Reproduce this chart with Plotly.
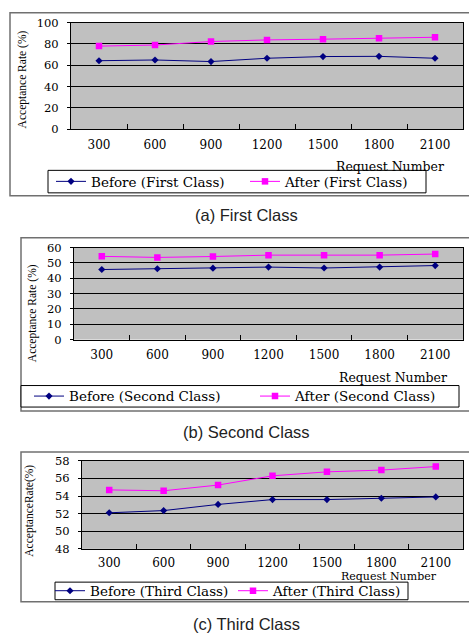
import plotly.graph_objects as go

W, H = 469, 640

categories = ["300", "600", "900", "1200", "1500", "1800", "2100"]

before_first = [64.3, 65.0, 63.5, 66.6, 68.2, 68.4, 66.6]
after_first = [78.0, 79.0, 82.3, 83.8, 84.5, 85.3, 86.3]

before_second = [45.7, 46.2, 46.6, 47.3, 46.7, 47.3, 48.3]
after_second = [54.3, 53.6, 54.2, 55.1, 55.1, 55.1, 55.8]

before_third = [52.1, 52.35, 53.05, 53.6, 53.6, 53.75, 53.9]
after_third = [54.7, 54.6, 55.25, 56.3, 56.75, 56.95, 57.35]

panels = [
    dict(before=before_first, after=after_first, name="First Class", caption="(a) First Class",
         yrange=[0, 100], dtick=20, ytitle="Acceptance Rate (%)"),
    dict(before=before_second, after=after_second, name="Second Class", caption="(b) Second Class",
         yrange=[0, 60], dtick=10, ytitle="Acceptance Rate (%)"),
    dict(before=before_third, after=after_third, name="Third Class", caption="(c) Third Class",
         yrange=[48, 58], dtick=2, ytitle="AcceptanceRate(%)"),
]

# pixel geometry
plot_px = [(71, 463, 16, 125), (74, 463, 246, 340), (82, 463, 464, 554)]
frame_px = [(10, 472, 6, 193), (21, 472, 236, 413), (21, 472, 455, 608)]
legbox_px = [(48, 426, 167, 190), (21, 459, 387, 409), (55, 408, 588, 606)]
legitem_px = [(63, 257), (41, 267), (62, 245)]  # symbol start x of each entry
ytitle_px = [(22, 74), (32, 313), (30, 515)]
xtitle_px = [(445, 163, 12.5), (448, 379, 12.5), (438, 582, 11)]
xtick_standoff = [4, 4, 3]
caption_y = [213, 434, 631]

def px_x(v):
    return v / W

def px_y(v):
    return 1 - v / H

NAVY = "#000080"
MAGENTA = "#FF00FF"
SERIF = "DejaVu Serif"
LEG_OFF = 12  # legend left -> symbol start

fig = go.Figure()
layout = dict(
    width=W, height=H, margin=dict(l=0, r=0, t=0, b=0),
    paper_bgcolor="white", plot_bgcolor="#C0C0C0",
    shapes=[], annotations=[], showlegend=True,
)

for i, p in enumerate(panels):
    n = "" if i == 0 else str(i + 1)
    xa, ya = "x" + n, "y" + n
    lg_b = "legend" + ("" if i == 0 else str(2 * i + 1))
    lg_a = "legend" + str(2 * i + 2)
    fig.add_trace(go.Scatter(
        x=categories, y=p["before"], xaxis=xa, yaxis=ya, legend=lg_b,
        name="Before (%s)" % p["name"], mode="lines+markers",
        line=dict(color=NAVY, width=1), marker=dict(symbol="diamond", size=5.5, color=NAVY),
    ))
    fig.add_trace(go.Scatter(
        x=categories, y=p["after"], xaxis=xa, yaxis=ya, legend=lg_a,
        name="After (%s)" % p["name"], mode="lines+markers",
        line=dict(color=MAGENTA, width=1), marker=dict(symbol="square", size=6.5, color=MAGENTA),
    ))
    l, r, t, b = plot_px[i]
    layout["xaxis" + n] = dict(
        domain=[px_x(l), px_x(r)], anchor=ya, type="category", range=[-0.5, 6.5],
        showgrid=False, showline=True, linecolor="black", linewidth=1, mirror=True,
        ticks="inside", ticklen=5, tickcolor="black", tickson="boundaries",
        tickfont=dict(family=SERIF, size=12, color="black"), ticklabelstandoff=xtick_standoff[i],
        zeroline=False, fixedrange=True,
    )
    layout["yaxis" + n] = dict(
        domain=[px_y(b), px_y(t)], anchor=xa, range=p["yrange"], dtick=p["dtick"],
        showgrid=True, gridcolor="black", gridwidth=1, showline=True, linecolor="black",
        linewidth=1, mirror=True, ticks="outside", ticklen=3, tickcolor="black",
        tickfont=dict(family=SERIF, size=11.5, color="black"), ticklabelstandoff=6,
        zeroline=False, fixedrange=True,
    )
    fl, fr, ft, fb = frame_px[i]
    layout["shapes"].append(dict(type="rect", xref="paper", yref="paper",
                                 x0=px_x(fl), x1=px_x(fr), y0=px_y(fb), y1=px_y(ft),
                                 line=dict(color="#707070", width=1.5), layer="below"))
    bl, br, bt, bb = legbox_px[i]
    layout["shapes"].append(dict(type="rect", xref="paper", yref="paper",
                                 x0=px_x(bl), x1=px_x(br), y0=px_y(bb), y1=px_y(bt),
                                 fillcolor="white", line=dict(color="black", width=1),
                                 layer="above"))
    cy = (bt + bb) / 2
    for lg, sx in zip((lg_b, lg_a), legitem_px[i]):
        layout[lg] = dict(
            orientation="h", xref="paper", yref="paper", x=px_x(sx - LEG_OFF), y=px_y(cy),
            xanchor="left", yanchor="middle", bgcolor="rgba(0,0,0,0)", borderwidth=0,
            font=dict(family=SERIF, size=13.5, color="black"),
            itemclick=False, itemdoubleclick=False,
        )
    tx, ty = ytitle_px[i]
    layout["annotations"].append(dict(
        text=p["ytitle"], xref="paper", yref="paper", x=px_x(tx), y=px_y(ty),
        xanchor="center", yanchor="middle", textangle=-90, showarrow=False,
        font=dict(family="Liberation Serif", size=11.5, color="black")))
    rx, ry, rs = xtitle_px[i]
    layout["annotations"].append(dict(
        text="Request Number", xref="paper", yref="paper", x=px_x(rx), y=px_y(ry),
        xanchor="right", yanchor="middle", showarrow=False, borderpad=0,
        font=dict(family=SERIF, size=rs, color="black")))
    layout["annotations"].append(dict(
        text=p["caption"], xref="paper", yref="paper", x=px_x(247), y=px_y(caption_y[i]),
        xanchor="center", yanchor="middle", showarrow=False,
        font=dict(family="Liberation Sans", size=16.5, color="#222222")))

fig.update_layout(**layout)
fig.write_html("out.html", config={"displayModeBar": False},
               post_script="document.body.style.margin='0';document.body.style.overflow='hidden';")
